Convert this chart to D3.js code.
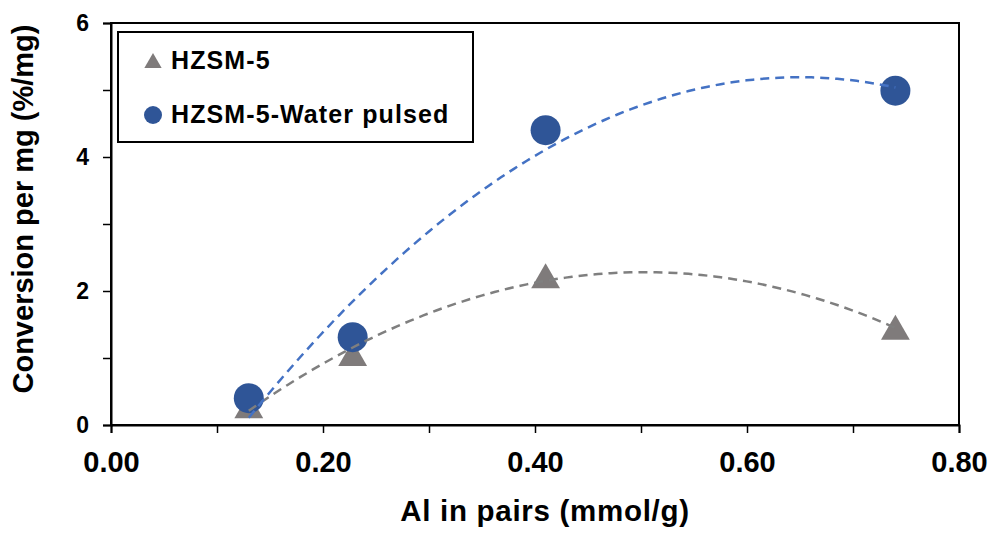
<!DOCTYPE html>
<html>
<head>
<meta charset="utf-8">
<script src="https://cdn.jsdelivr.net/npm/d3@7"></script>
<style>
  html, body { margin: 0; padding: 0; background: #fff; }
  svg { display: block; font-family: "Liberation Sans", Arial, sans-serif; font-weight: bold; }
</style>
</head>
<body>
<svg id="chart" width="991" height="533"></svg>
<script>
// data
var alPairs = [0.13, 0.228, 0.41, 0.74];
var hzsm5 = [0.27, 1.05, 2.21, 1.44];
var hzsm5Water = [0.40, 1.31, 4.40, 4.99];
var seriesNames = ["HZSM-5", "HZSM-5-Water pulsed"];
var xTicks = [0, 0.2, 0.4, 0.6, 0.8];
var yTicks = [0, 2, 4, 6];

var svg = d3.select("#chart");
var margin = { top: 23, right: 32, bottom: 108, left: 111 };
var width = 991 - margin.left - margin.right;
var height = 533 - margin.top - margin.bottom;

var x = d3.scaleLinear().domain([0, 0.8]).range([0, width]);
var y = d3.scaleLinear().domain([0, 6]).range([height, 0]);

var g = svg.append("g").attr("transform", "translate(" + margin.left + "," + margin.top + ")");

// least squares 2nd order polynomial, like the spreadsheet trendline
function quadFit(xs, ys) {
	var n = xs.length, s = [0, 0, 0, 0, 0], t = [0, 0, 0];
	xs.forEach(function(xv, i) {
		for (var k = 0; k < 5; k++) s[k] += Math.pow(xv, k);
		for (var j = 0; j < 3; j++) t[j] += ys[i] * Math.pow(xv, j);
	});
	var m = [[s[0], s[1], s[2], t[0]], [s[1], s[2], s[3], t[1]], [s[2], s[3], s[4], t[2]]];
	for (var c = 0; c < 3; c++) {
		for (var r = c + 1; r < 3; r++) {
			var f = m[r][c] / m[c][c];
			for (var q = c; q < 4; q++) m[r][q] -= f * m[c][q];
		}
	}
	var coef = [0, 0, 0];
	for (var r2 = 2; r2 >= 0; r2--) {
		var sum = m[r2][3];
		for (var q2 = r2 + 1; q2 < 3; q2++) sum -= m[r2][q2] * coef[q2];
		coef[r2] = sum / m[r2][r2];
	}
	return function(v) { return coef[0] + coef[1] * v + coef[2] * v * v; };
}

// plot frame
g.append("rect")
	.attr("width", width).attr("height", height)
	.attr("fill", "none").attr("stroke", "#000").attr("stroke-width", 2);

// axes
var yAxis = d3.axisLeft(y).tickValues(d3.range(0, 7, 1)).tickSize(8)
	.tickFormat(function(d) { return yTicks.indexOf(d) >= 0 ? d : ""; });
var gy = g.append("g").call(yAxis);
gy.select(".domain").attr("stroke-width", 2);
gy.selectAll(".tick line").attr("stroke-width", 1.5);
gy.selectAll(".tick text").attr("font-size", 23).attr("font-family", "inherit").attr("fill", "#000").attr("x", -22);

var xAxis = d3.axisBottom(x).tickValues(d3.range(0, 0.81, 0.1)).tickSize(8)
	.tickFormat(function(d) {
		return xTicks.some(function(t) { return Math.abs(t - d) < 1e-9; }) ? d3.format(".2f")(d) : "";
	});
var gx = g.append("g").attr("transform", "translate(0," + height + ")").call(xAxis);
gx.select(".domain").attr("stroke-width", 2);
gx.selectAll(".tick line").attr("stroke-width", 1.5);
gx.selectAll(".tick text").attr("font-size", 29).attr("font-family", "inherit").attr("fill", "#000").attr("y", 26);

// trendlines
var series = [
	{ name: seriesNames[0], values: hzsm5, line: "#7f7f7f", fill: "#7f7b7b", shape: d3.symbolTriangle, size: 360 },
	{ name: seriesNames[1], values: hzsm5Water, line: "#4472c4", fill: "#2f5597", shape: d3.symbolCircle, size: 707 }
];

var line = d3.line().x(function(d) { return x(d[0]); }).y(function(d) { return y(d[1]); });

series.forEach(function(s) {
	var fit = quadFit(alPairs, s.values);
	var lo = d3.min(alPairs), hi = d3.max(alPairs);
	var pts = d3.range(0, 101).map(function(i) { var v = lo + (hi - lo) * i / 100; return [v, fit(v)]; });
	s.trend = pts;
});

// markers first for gray, then its trend; blue markers under blue trend as in the picture
series.forEach(function(s) {
	g.append("g").selectAll("path")
		.data(alPairs)
		.enter().append("path")
		.attr("d", d3.symbol().type(s.shape).size(s.size))
		.attr("transform", function(d, i) {
			var dy = s.shape === d3.symbolTriangle ? 3 : 0;
			return "translate(" + x(d) + "," + (y(s.values[i]) + dy) + ")";
		})
		.attr("fill", s.fill);
});

series.forEach(function(s) {
	g.append("path")
		.datum(s.trend)
		.attr("d", line)
		.attr("fill", "none")
		.attr("stroke", s.line)
		.attr("stroke-width", 2.5)
		.attr("stroke-dasharray", "9,6");
});

// legend
var lg = svg.append("g").attr("transform", "translate(118,32)");
lg.append("rect").attr("width", 355).attr("height", 110)
	.attr("fill", "#fff").attr("stroke", "#000").attr("stroke-width", 2);
series.forEach(function(s, i) {
	var cy = 29 + i * 54;
	lg.append("path")
		.attr("d", d3.symbol().type(s.shape).size(s.shape === d3.symbolTriangle ? 130 : 254))
		.attr("transform", "translate(35," + (cy + (s.shape === d3.symbolTriangle ? 2 : 0)) + ")")
		.attr("fill", s.fill);
	lg.append("text")
		.attr("x", 53).attr("y", cy + 8)
		.attr("font-size", 25).attr("letter-spacing", 1.1)
		.text(s.name);
});

// axis titles
svg.append("text")
	.attr("x", margin.left + x(0.4) + 10).attr("y", 521)
	.attr("text-anchor", "middle").attr("font-size", 29.5).attr("letter-spacing", 0.7)
	.text("Al in pairs (mmol/g)");

svg.append("text")
	.attr("transform", "translate(33,209) rotate(-90)")
	.attr("text-anchor", "middle").attr("font-size", 29)
	.text("Conversion per mg (%/mg)");
</script>
</body>
</html>
